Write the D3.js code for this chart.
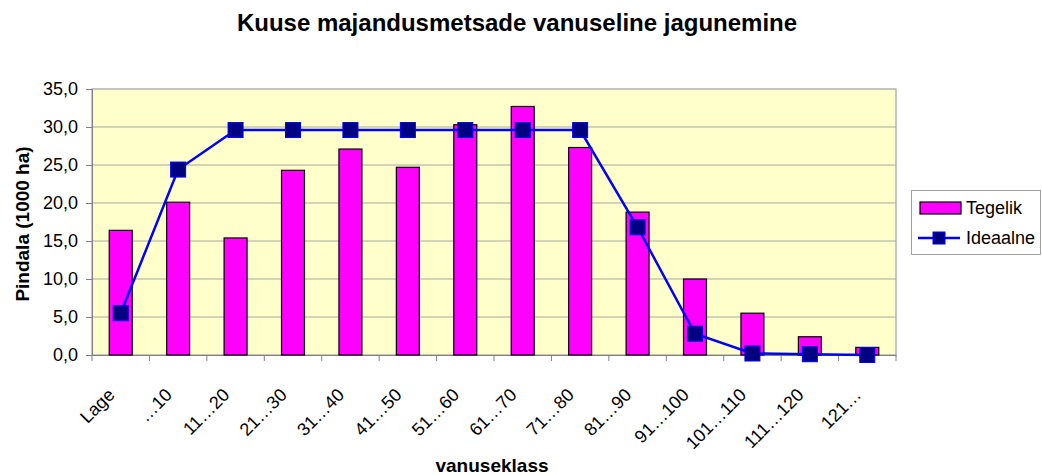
<!DOCTYPE html>
<html>
<head>
<meta charset="utf-8">
<script src="https://cdn.jsdelivr.net/npm/d3@7"></script>
<style>
  body { margin: 0; background: #fff; }
  svg { display: block; font-family: "Liberation Sans", Arial, sans-serif; }
</style>
</head>
<body>
<svg></svg>
<script>
const width = 1042;
const height = 475;

const categories = ["Lage", "…10", "11…20", "21…30", "31…40", "41…50", "51…60",
  "61…70", "71…80", "81…90", "91…100", "101…110", "111…120", "121…"];
const tegelik = [16.4, 20.1, 15.4, 24.3, 27.1, 24.7, 30.3, 32.7, 27.3, 18.8, 10.0, 5.5, 2.4, 1.0];
const ideaalne = [5.5, 24.4, 29.6, 29.6, 29.6, 29.6, 29.6, 29.6, 29.6, 16.8, 2.8, 0.2, 0.1, 0.0];
const yTicks = [0, 5, 10, 15, 20, 25, 30, 35];
const seriesNames = ["Tegelik", "Ideaalne"];

const plot = { left: 92, right: 896, top: 89, bottom: 355 };

const svg = d3.select("svg").attr("width", width).attr("height", height);

//scales
const x = d3.scaleBand().domain(categories).range([plot.left, plot.right]);
const y = d3.scaleLinear().domain([0, 35]).range([plot.bottom, plot.top]);

//plot background
svg.append("rect")
  .attr("x", plot.left)
  .attr("y", plot.top)
  .attr("width", plot.right - plot.left)
  .attr("height", plot.bottom - plot.top)
  .attr("fill", "#ffffcc")
  .attr("stroke", "#a0a0a0")
  .attr("stroke-width", 1.2);

//gridlines
svg.append("g")
  .selectAll("line")
  .data(yTicks.slice(1, -1))
  .enter()
  .append("line")
  .attr("x1", plot.left)
  .attr("x2", plot.right)
  .attr("y1", (d) => y(d))
  .attr("y2", (d) => y(d))
  .attr("stroke", "#a8a8a0")
  .attr("stroke-width", 1.2);

//y axis
const yAxis = d3.axisLeft(y)
  .tickValues(yTicks)
  .tickSize(6)
  .tickPadding(8)
  .tickFormat((d) => d3.format(".1f")(d).replace(".", ","));

svg.append("g")
  .attr("transform", `translate(${plot.left},0)`)
  .call(yAxis)
  .call((g) => g.select(".domain").attr("stroke", "#808080"))
  .call((g) => g.selectAll(".tick line").attr("stroke", "#808080"))
  .call((g) => g.selectAll(".tick text")
    .attr("font-size", 18)
    .attr("font-family", "Liberation Sans, Arial, sans-serif")
    .attr("fill", "#000"));

//x axis (ticks on band edges)
const xAxis = d3.axisBottom(x).tickSize(0).tickFormat("");
svg.append("g")
  .attr("transform", `translate(0,${plot.bottom})`)
  .call(xAxis)
  .call((g) => g.select(".domain").attr("stroke", "#808080"));

svg.append("g")
  .selectAll("line")
  .data(categories.concat([null]))
  .enter()
  .append("line")
  .attr("x1", (d, i) => plot.left + i * x.bandwidth())
  .attr("x2", (d, i) => plot.left + i * x.bandwidth())
  .attr("y1", plot.bottom)
  .attr("y2", plot.bottom + 6)
  .attr("stroke", "#808080");

svg.append("g")
  .selectAll("text")
  .data(categories)
  .enter()
  .append("text")
  .attr("transform", (d) => `translate(${x(d) + x.bandwidth() / 2 - 5},${plot.bottom + 41}) rotate(-45)`)
  .attr("text-anchor", "end")
  .attr("font-size", 18)
  .attr("fill", "#000")
  .text((d) => d);

//bars
const barW = x.bandwidth() * 0.4;
svg.append("g")
  .selectAll("rect")
  .data(tegelik)
  .enter()
  .append("rect")
  .attr("x", (d, i) => x(categories[i]) + (x.bandwidth() - barW) / 2)
  .attr("y", (d) => y(d))
  .attr("width", barW)
  .attr("height", (d) => y(0) - y(d))
  .attr("fill", "#ff00ff")
  .attr("stroke", "#000")
  .attr("stroke-width", 1.2);

//ideal line
const line = d3.line()
  .x((d, i) => x(categories[i]) + x.bandwidth() / 2)
  .y((d) => y(d));

svg.append("path")
  .datum(ideaalne)
  .attr("d", line)
  .attr("fill", "none")
  .attr("stroke", "#0000ff")
  .attr("stroke-width", 2.5);

const mk = 15;
svg.append("g")
  .selectAll("rect")
  .data(ideaalne)
  .enter()
  .append("rect")
  .attr("x", (d, i) => x(categories[i]) + x.bandwidth() / 2 - mk / 2)
  .attr("y", (d) => y(d) - mk / 2)
  .attr("width", mk)
  .attr("height", mk)
  .attr("fill", "#000080")
  .attr("stroke", "#0000ff")
  .attr("stroke-width", 1);

//title
svg.append("text")
  .attr("x", 517)
  .attr("y", 31)
  .attr("text-anchor", "middle")
  .attr("font-size", 24)
  .attr("font-weight", "bold")
  .text("Kuuse majandusmetsade vanuseline jagunemine");

//axis titles
svg.append("text")
  .attr("transform", "translate(29,224) rotate(-90)")
  .attr("text-anchor", "middle")
  .attr("font-size", 19)
  .attr("font-weight", "bold")
  .text("Pindala (1000 ha)");

svg.append("text")
  .attr("x", 492)
  .attr("y", 472)
  .attr("text-anchor", "middle")
  .attr("font-size", 19)
  .attr("font-weight", "bold")
  .text("vanuseklass");

//legend
const legend = svg.append("g").attr("id", "legend");
legend.append("rect")
  .attr("x", 911.5)
  .attr("y", 190.5)
  .attr("width", 129)
  .attr("height", 64)
  .attr("fill", "#fff")
  .attr("stroke", "#a0a0a0");

legend.append("rect")
  .attr("x", 920)
  .attr("y", 202)
  .attr("width", 41)
  .attr("height", 12)
  .attr("fill", "#ff00ff")
  .attr("stroke", "#000")
  .attr("stroke-width", 1.2);

legend.append("line")
  .attr("x1", 918)
  .attr("x2", 960)
  .attr("y1", 238)
  .attr("y2", 238)
  .attr("stroke", "#0000ff")
  .attr("stroke-width", 2.5);

legend.append("rect")
  .attr("x", 933)
  .attr("y", 232)
  .attr("width", 12)
  .attr("height", 12)
  .attr("fill", "#000080")
  .attr("stroke", "#0000ff");

legend.selectAll("text.lbl")
  .data(seriesNames)
  .enter()
  .append("text")
  .attr("class", "lbl")
  .attr("x", 966)
  .attr("y", (d, i) => 214 + i * 30)
  .attr("font-size", 18)
  .text((d) => d);
</script>
</body>
</html>
